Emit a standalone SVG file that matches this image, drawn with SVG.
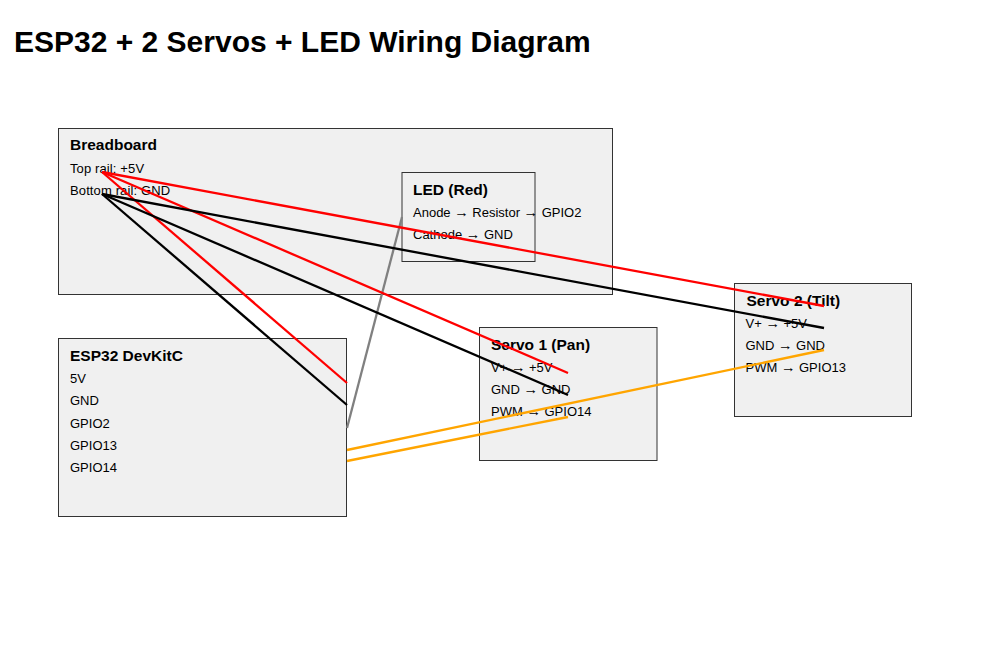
<svg xmlns="http://www.w3.org/2000/svg" width="983" height="654" viewBox="0 0 983 654">
<style>
text{font-family:"Liberation Sans",Arial,sans-serif;fill:#000}
.title{font-size:30px;font-weight:bold}
.box{fill:#f0f0f0;stroke:#333;stroke-width:1}
.h{font-size:15.5px;font-weight:bold}
.t{font-size:13px}
.w{letter-spacing:.12px}
.a{font-size:14.5px}
#connectors line{stroke-width:2.3;fill:none}
.r{stroke:#f00}.k{stroke:#000}.o{stroke:#ffa500}.g{stroke:#808080}
</style>
<rect width="983" height="654" fill="#fff"/>
<text class="title" x="14" y="52">ESP32 + 2 Servos + LED Wiring Diagram</text>
<g id="breadboard"><rect class="box" x="58.5" y="128.5" width="554" height="166"/>
<text class="h" x="70" y="150">Breadboard</text><text class="t w" x="70" y="173">Top rail: +5V</text><text class="t w" x="70" y="195">Bottom rail: GND</text></g>
<g id="led"><rect class="box" x="402" y="172.5" width="133" height="89"/>
<text class="h" x="413" y="195">LED (Red)</text><text class="t" x="413" y="217">Anode <tspan class="a">→</tspan> Resistor <tspan class="a">→</tspan> GPIO2</text><text class="t" x="413" y="239">Cathode <tspan class="a">→</tspan> GND</text></g>
<g id="esp32"><rect class="box" x="58.5" y="338.5" width="288" height="178"/>
<text class="h" x="70" y="361">ESP32 DevKitC</text><text class="t" x="70" y="383">5V</text><text class="t" x="70" y="405">GND</text><text class="t" x="70" y="428">GPIO2</text><text class="t" x="70" y="450">GPIO13</text><text class="t" x="70" y="472">GPIO14</text></g>
<g id="servo1"><rect class="box" x="479.500" y="327.500" width="177.500" height="133"/>
<text class="h" x="491" y="350">Servo 1 (Pan)</text><text class="t" x="491" y="372">V+ <tspan class="a">→</tspan> +5V</text><text class="t" x="491" y="394">GND <tspan class="a">→</tspan> GND</text><text class="t" x="491" y="416">PWM <tspan class="a">→</tspan> GPIO14</text></g>
<g id="servo2"><rect class="box" x="734.500" y="283.500" width="177" height="133"/>
<text class="h" x="746.500" y="306">Servo 2 (Tilt)</text><text class="t" x="745.500" y="328">V+ <tspan class="a">→</tspan> +5V</text><text class="t" x="745.500" y="350">GND <tspan class="a">→</tspan> GND</text><text class="t" x="745.500" y="372">PWM <tspan class="a">→</tspan> GPIO13</text></g>
<g id="connectors">
<line class="r" x1="102" y1="172" x2="347" y2="383"/>
<line class="k" x1="102" y1="194" x2="347" y2="405"/>
<line class="g" x1="347" y1="428" x2="402" y2="217"/>
<line class="r" x1="102" y1="172" x2="568" y2="373"/>
<line class="k" x1="102" y1="194" x2="568" y2="395"/>
<line class="o" x1="347" y1="461" x2="568" y2="417"/>
<line class="r" x1="102" y1="172" x2="824" y2="306"/>
<line class="k" x1="102" y1="194" x2="824" y2="328"/>
<line class="o" x1="347" y1="450" x2="824" y2="350"/>
</g>
</svg>
